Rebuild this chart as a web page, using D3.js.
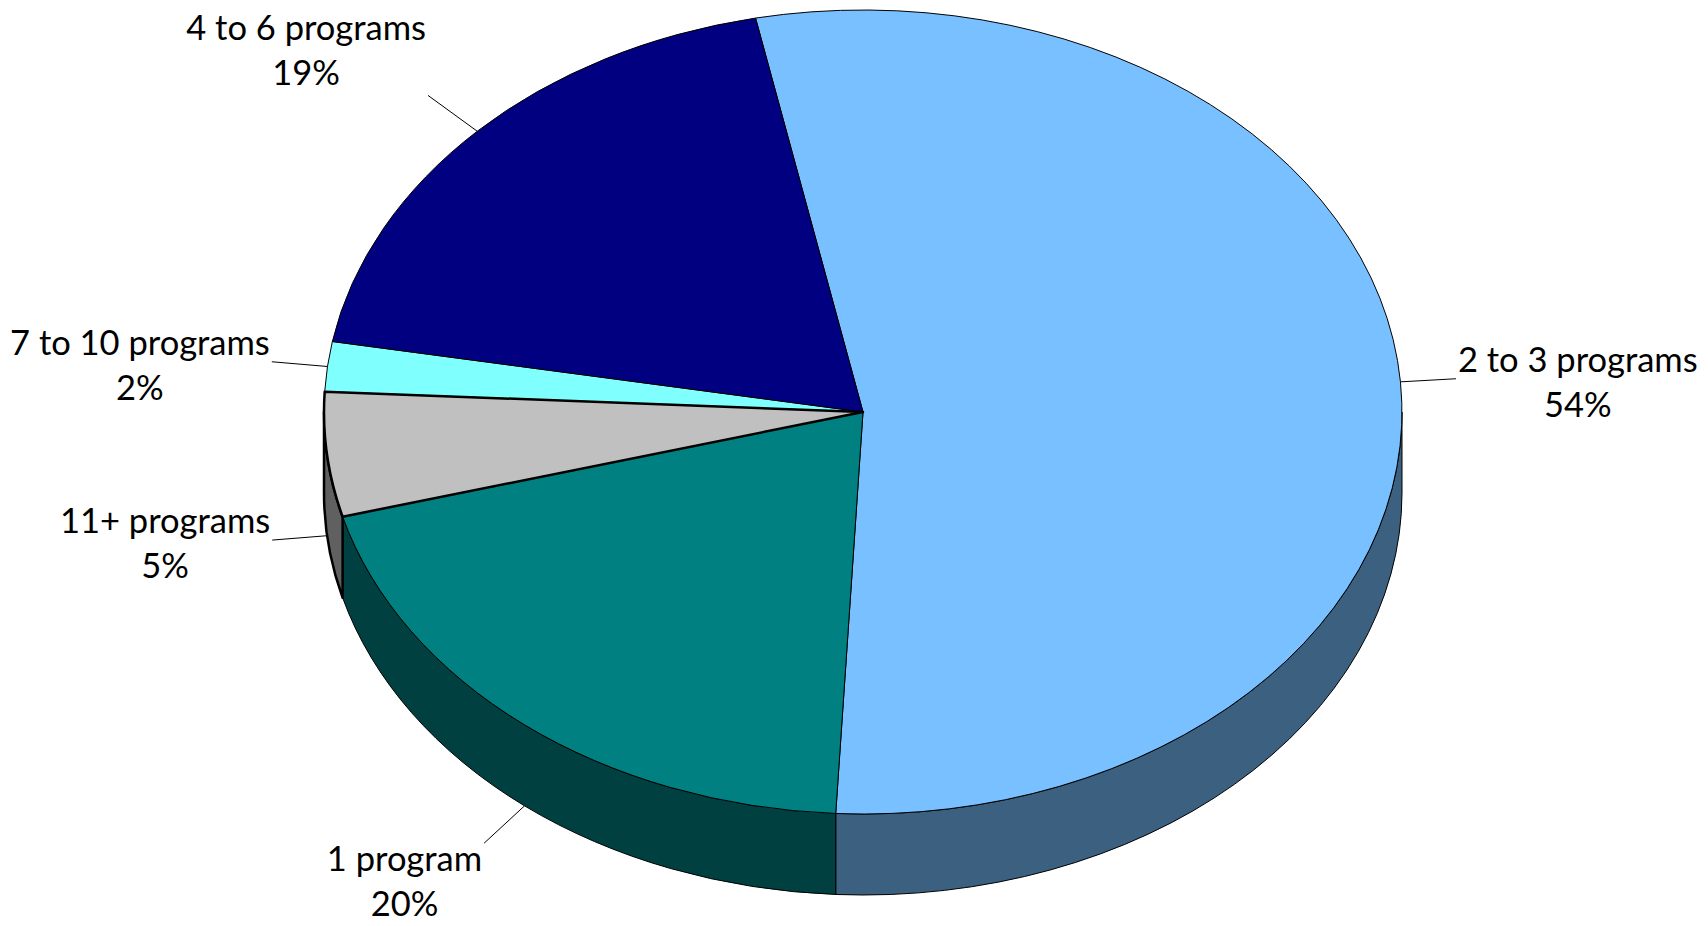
<!DOCTYPE html>
<html>
<head>
<meta charset="utf-8">
<script src="https://cdn.jsdelivr.net/npm/d3@7"></script>
<style>
  html, body { margin: 0; padding: 0; background: #fff; overflow: hidden; }
  text { font-family: Lato, "Open Sans", sans-serif; fill: #000; }
</style>
</head>
<body>
<svg id="chart" width="1708" height="926"></svg>
<script>
// Slices in clockwise order, starting from the first slice angle
const categories = ["2 to 3 programs", "1 program", "11+ programs", "7 to 10 programs", "4 to 6 programs"];
const shares = [54, 20, 5, 2, 19];
const topColors = ["#78C0FF", "#008080", "#C0C0C0", "#80FFFF", "#000080"];
const outlineWidths = [1, 1, 2.5, 1, 1];

const W = 1708, H = 926;
const cx = 863, cy = 412;      // centre of the top face
const rx = 539, ry = 402;      // ellipse radii of the tilted disc
const depth = 81;              // thickness of the disc
const firstSliceAngle = -11.5; // degrees, clockwise from 12 o'clock
const fontSize = 34.5;
const lineGap = 45;

const svg = d3.select("#chart");
svg.append("rect").attr("width", W).attr("height", H).attr("fill", "#fff");

const data = categories.map((c, i) => ({ name: c, value: shares[i], color: topColors[i], sw: outlineWidths[i] }));

const a0 = firstSliceAngle * Math.PI / 180;
const pie = d3.pie().sort(null).value(d => d.value).startAngle(a0).endAngle(a0 + 2 * Math.PI);
const arcs = pie(data);

// point on the ellipse at angle t (clockwise from top)
const P = (t, dy = 0) => [cx + rx * Math.sin(t), cy - ry * Math.cos(t) + dy];
const fmt = p => p[0].toFixed(2) + "," + p[1].toFixed(2);

function shade(c) {
  const r = d3.rgb(c);
  return d3.rgb(r.r * 0.5, r.g * 0.5, r.b * 0.5).formatHex();
}

// ---- side walls (only the front half of the rim is visible) ----
const sides = svg.append("g");
arcs.forEach(a => {
  [[Math.PI / 2, 3 * Math.PI / 2], [-3 * Math.PI / 2, -Math.PI / 2]].forEach(([lo, hi]) => {
    const s = Math.max(a.startAngle, lo), e = Math.min(a.endAngle, hi);
    if (e - s <= 1e-6) return;
    const d = "M" + fmt(P(s)) +
      " A" + rx + "," + ry + " 0 0 1 " + fmt(P(e)) +
      " L" + fmt(P(e, depth)) +
      " A" + rx + "," + ry + " 0 0 0 " + fmt(P(s, depth)) + " Z";
    sides.append("path")
      .attr("d", d)
      .attr("fill", shade(a.data.color))
      .attr("stroke", "#000")
      .attr("stroke-width", a.data.sw)
      .attr("stroke-linejoin", "round");
  });
});

// ---- top faces ----
const tops = svg.append("g");
arcs.forEach(a => {
  const large = (a.endAngle - a.startAngle) > Math.PI ? 1 : 0;
  const d = "M" + cx + "," + cy + " L" + fmt(P(a.startAngle)) +
    " A" + rx + "," + ry + " 0 " + large + " 1 " + fmt(P(a.endAngle)) + " Z";
  tops.append("path")
    .datum(a)
    .attr("d", d)
    .attr("fill", a.data.color)
    .attr("stroke", "#000")
    .attr("stroke-width", a.data.sw)
    .attr("stroke-linejoin", "round");
});
// keep the heavier outline on top
tops.selectAll("path").filter(d => d.data.sw > 1).raise();

// ---- leader lines and labels ----
const labels = svg.append("g");
arcs.forEach(a => {
  const mid = (a.startAngle + a.endAngle) / 2;
  const tp = P(mid);
  let dx = tp[0] - cx, dy = tp[1] - cy;
  const len = Math.hypot(dx, dy);
  dx /= len; dy /= len;
  const front = Math.cos(mid) < 0;
  const start = front ? [tp[0], tp[1] + depth] : tp;
  // leaders pointing up-and-out run a little longer
  const leaderLength = 55 + 10 * Math.max(0, -dy);
  const end = [start[0] + dx * leaderLength, start[1] + dy * leaderLength];

  labels.append("line")
    .attr("x1", start[0]).attr("y1", start[1])
    .attr("x2", end[0]).attr("y2", end[1])
    .attr("stroke", "#000").attr("stroke-width", 1);

  let y1;
  if (dy < -0.5) y1 = end[1] - 10 - lineGap;
  else if (dy > 0.5) y1 = end[1] + 28;
  else y1 = end[1] - 7;

  const lines = [a.data.name, a.data.value + "%"];
  const texts = lines.map((s, k) => labels.append("text")
    .attr("y", y1 + k * lineGap)
    .attr("text-anchor", "middle")
    .attr("font-size", fontSize)
    .text(s));
  const w = d3.max(texts, t => t.node().getComputedTextLength());
  const side = dx < 0 ? -1 : 1;
  const x = end[0] + side * (w / 2 + 2);
  texts.forEach(t => t.attr("x", x));
});
</script>
</body>
</html>
